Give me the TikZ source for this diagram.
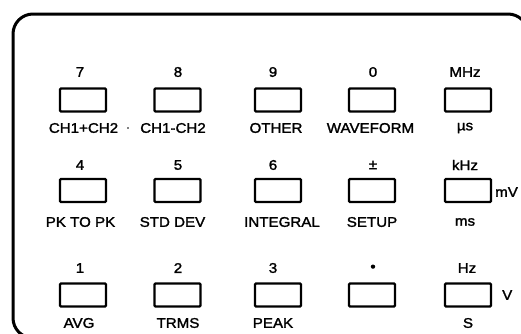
\documentclass[tikz,border=0pt]{standalone}
\usepackage{fontspec}
\setmainfont{Liberation Sans}[FakeStretch=1.08,FakeBold=1.6]
\begin{document}
\begin{tikzpicture}[x=1pt,y=-1pt,
  key/.style={draw,line width=2.4pt,rounded corners=1pt,minimum width=46pt,minimum height=23pt,inner sep=0pt},
  txt/.style={inner sep=0pt,font=\fontsize{14}{14}\selectfont\addfontfeatures{FakeBold=1.6}},
  frame/.style={line width=3pt}]
\useasboundingbox (0,0) rectangle (521,333);
\clip (0,0) rectangle (521,333);
\draw[frame,rounded corners=20pt] (528,30) -- (528,14) -- (13,14) -- (13,338) -- (60,338);
% row 1
\node[key] (k7) at (83,100) {};
\node[key] (k8) at (177.5,100) {};
\node[key] (k9) at (278,100) {};
\node[key] (k0) at (372,100) {};
\node[key] (kMHz) at (468,100) {};
\node[txt] (n7) at (80,72) {7};
\node[txt] (n8) at (178,72) {8};
\node[txt] (n9) at (273,72) {9};
\node[txt] (n0) at (373,72) {0};
\node[txt] (nMHz) at (465,72) {MHz};
\node[txt] (l7) at (83.5,128) {CH1+CH2};
\node[fill,circle,inner sep=0.6pt] (dot7) at (128,128) {};
\node[txt] (l8) at (173,128) {CH1-CH2};
\node[txt] (l9) at (276,128) {OTHER};
\node[txt] (l0) at (370.5,128) {WAVEFORM};
\node[txt] (lMHz) at (465,128) {µs};
% row 2
\node[key] (k4) at (83,190.5) {};
\node[key] (k5) at (177.5,190.5) {};
\node[key] (k6) at (278,190.5) {};
\node[key] (kpm) at (372,190.5) {};
\node[key] (kkHz) at (468,190.5) {};
\node[txt] (n4) at (80,165) {4};
\node[txt] (n5) at (178,165) {5};
\node[txt] (n6) at (273,165) {6};
\node[txt] (npm) at (373,165) {±};
\node[txt] (nkHz) at (465,165) {kHz};
\node[txt] (l4) at (80.5,222) {PK TO PK};
\node[txt] (l5) at (172.5,222) {STD DEV};
\node[txt] (l6) at (282,222) {INTEGRAL};
\node[txt] (lpm) at (372,222) {SETUP};
\node[txt] (lkHz) at (465,222) {ms};
\node[txt,anchor=west] (mV) at (495,192) {mV};
% row 3
\node[key] (k1) at (83,295) {};
\node[key] (k2) at (177.5,295) {};
\node[key] (k3) at (278,295) {};
\node[key] (kdot) at (372,295) {};
\node[key] (kHz) at (468,295) {};
\node[txt] (n1) at (80,268) {1};
\node[txt] (n2) at (178,268) {2};
\node[txt] (n3) at (273,268) {3};
\node[txt] (ndot) at (373,268) {•};
\node[txt] (nHz) at (467,268) {Hz};
\node[txt] (l1) at (79,323) {AVG};
\node[txt] (l2) at (178,323) {TRMS};
\node[txt] (l3) at (273,323) {PEAK};
\node[txt] (lHz) at (468,323) {S};
\node[txt,anchor=west] (V) at (502,295) {V};
\end{tikzpicture}
\end{document}
